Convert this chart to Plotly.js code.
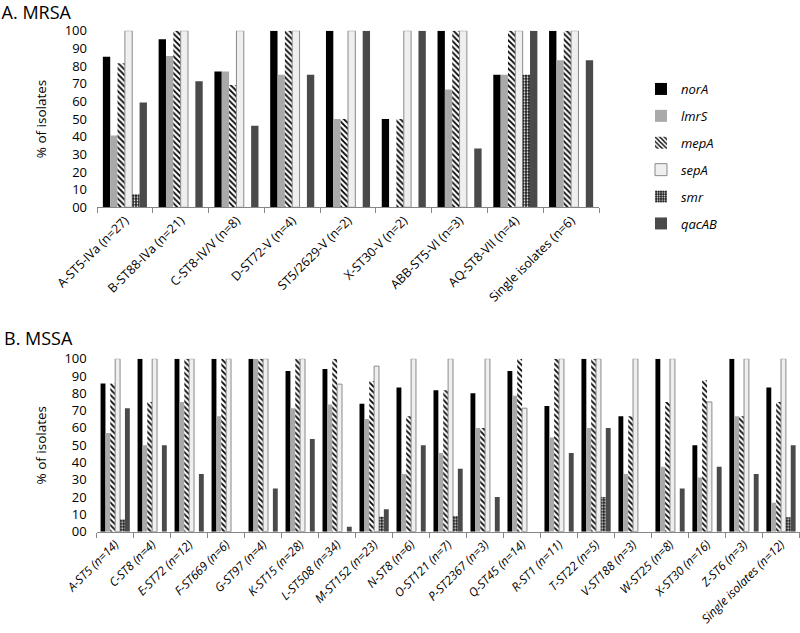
<!DOCTYPE html>
<html>
<head>
<meta charset="utf-8">
<script src="https://cdn.plot.ly/plotly-3.0.1.min.js"></script>
<style>html,body{margin:0;padding:0;background:#fff;}#chart{width:800px;height:633px;}</style>
</head>
<body>
<div id="chart"></div>
<script>
const genes = ['norA', 'lmrS', 'mepA', 'sepA', 'smr', 'qacAB'];
const yTickVals = [0, 10, 20, 30, 40, 50, 60, 70, 80, 90, 100];
const yTickText = ['00', '10', '20', '30', '40', '50', '60', '70', '80', '90', '100'];

const mrsaCategories = ['A-ST5-IVa (n=27)', 'B-ST88-IVa (n=21)', 'C-ST8-IV/V (n=8)', 'D-ST72-V (n=4)', 'ST5/2629-V (n=2)', 'X-ST30-V (n=2)', 'ABB-ST5-VI (n=3)', 'AQ-ST8-VII (n=4)', 'Single isolates (n=6)'];
const mrsaNorA  = [85.2, 95.2, 76.9, 100, 100, 50, 100, 75, 100];
const mrsaLmrS  = [40.7, 85.7, 76.9, 75, 50, 0, 66.7, 75, 83.3];
const mrsaMepA  = [81.5, 100, 69.2, 100, 50, 50, 100, 100, 100];
const mrsaSepA  = [100, 100, 100, 100, 100, 100, 100, 100, 100];
const mrsaSmr   = [7.4, 0, 0, 0, 0, 0, 0, 75, 0];
const mrsaQacAB = [59.3, 71.4, 46.2, 75, 100, 100, 33.3, 100, 83.3];

const mssaCategories = ['A-ST5 (n=14)', 'C-ST8 (n=4)', 'E-ST72 (n=12)', 'F-ST669 (n=6)', 'G-ST97 (n=4)', 'K-ST15 (n=28)', 'L-ST508 (n=34)', 'M-ST152 (n=23)', 'N-ST8 (n=6)', 'O-ST121 (n=7)', 'P-ST2367 (n=3)', 'Q-ST45 (n=14)', 'R-ST1 (n=11)', 'T-ST22 (n=5)', 'V-ST188 (n=3)', 'W-ST25 (n=8)', 'X-ST30 (n=16)', 'Z-ST6 (n=3)', 'Single isolates (n=12)'];
const mssaNorA  = [85.7, 100, 100, 100, 100, 92.9, 94.1, 73.9, 83.3, 81.8, 80, 92.9, 72.7, 100, 66.7, 100, 50, 100, 83.3];
const mssaLmrS  = [57.1, 50, 75, 66.7, 100, 71.4, 73.5, 65.2, 33.3, 45.5, 60, 78.6, 54.5, 60, 33.3, 37.5, 31.3, 66.7, 16.7];
const mssaMepA  = [85.7, 75, 100, 100, 100, 100, 100, 87, 66.7, 81.8, 60, 100, 100, 100, 66.7, 75, 87.5, 66.7, 75];
const mssaSepA  = [100, 100, 100, 100, 100, 100, 85.3, 95.7, 100, 100, 100, 71.4, 100, 100, 100, 100, 75, 100, 100];
const mssaSmr   = [7.1, 0, 0, 0, 0, 0, 0, 8.7, 0, 9.1, 0, 0, 0, 20, 0, 0, 0, 0, 8.3];
const mssaQacAB = [71.4, 50, 33.3, 0, 25, 53.6, 2.9, 13, 50, 36.4, 20, 0, 45.5, 60, 0, 25, 37.5, 33.3, 50];

const markers = {
  norA:  {color: '#000000', line: {width: 0}},
  lmrS:  {color: '#a9a9a9', line: {width: 0}},
  mepA:  {color: '#ffffff', line: {width: 0}, pattern: {shape: '\\', fgcolor: '#000000', bgcolor: '#ffffff', size: 4, solidity: 0.45}},
  sepA:  {color: '#efefef', line: {width: 1, color: '#8a8a8a'}},
  smr:   {color: '#222222', line: {width: 0}, pattern: {shape: '.', fgcolor: '#ffffff', bgcolor: '#1a1a1a', size: 3, solidity: 0.3}},
  qacAB: {color: '#4a4a4a', line: {width: 0}}
};

const mrsaSeries = [mrsaNorA, mrsaLmrS, mrsaMepA, mrsaSepA, mrsaSmr, mrsaQacAB];
const mssaSeries = [mssaNorA, mssaLmrS, mssaMepA, mssaSepA, mssaSmr, mssaQacAB];

const traces = [];
genes.forEach((g, i) => {
  traces.push({type: 'bar', name: g, x: mrsaCategories, y: mrsaSeries[i], xaxis: 'x', yaxis: 'y',
    marker: markers[g], legendgroup: g, showlegend: true, hoverinfo: 'x+y+name'});
});
genes.forEach((g, i) => {
  traces.push({type: 'bar', name: g, x: mssaCategories, y: mssaSeries[i], xaxis: 'x2', yaxis: 'y2',
    marker: markers[g], legendgroup: g, showlegend: false, hoverinfo: 'x+y+name'});
});

const axisColor = '#868686';
const xCommon = {type: 'category', tickson: 'boundaries', ticks: 'outside', ticklen: 5, tickcolor: axisColor,
  showline: true, linecolor: axisColor, linewidth: 1, showgrid: false, zeroline: false, tickangle: -45, automargin: false};
const yCommon = {range: [0, 100], tickvals: yTickVals, ticktext: yTickText, showgrid: false, showline: false,
  zeroline: false, ticks: '', ticklabelstandoff: 9, tickfont: {size: 13, color: '#000'}, automargin: false,
  title: {text: '% of isolates', font: {size: 13.5, color: '#000'}, standoff: 14}};

const layout = {
  width: 800, height: 633,
  margin: {l: 0, r: 0, t: 0, b: 0},
  paper_bgcolor: '#ffffff', plot_bgcolor: '#ffffff',
  font: {family: 'Open Sans, sans-serif', color: '#000'},
  barmode: 'group', bargap: 0.21, bargroupgap: 0,
  title: {text: 'A. MRSA', x: 0.002, xanchor: 'left', y: 1 - 13 / 633, yanchor: 'middle', font: {size: 18, color: '#000'}},
  xaxis: Object.assign({}, xCommon, {domain: [97 / 800, 599 / 800], anchor: 'y', tickfont: {size: 12.5, color: '#000'}}),
  yaxis: Object.assign({}, yCommon, {domain: [1 - 207.3 / 633, 1 - 30.7 / 633], anchor: 'x'}),
  xaxis2: Object.assign({}, xCommon, {domain: [96.7 / 800, 799.5 / 800], anchor: 'y2', tickfont: {size: 12, color: '#000', style: 'italic'}}),
  yaxis2: Object.assign({}, yCommon, {domain: [1 - 531.7 / 633, 1 - 358.7 / 633], anchor: 'x2'}),
  legend: {x: 641 / 800, xanchor: 'left', y: 1 - 74 / 633, yanchor: 'top', font: {size: 13, style: 'italic', color: '#000'},
    tracegroupgap: 7, bgcolor: 'rgba(0,0,0,0)', traceorder: 'grouped', itemwidth: 30},
  annotations: [
    {text: 'B. MSSA', xref: 'paper', yref: 'paper', x: 0.002, xanchor: 'left', y: 1 - 338 / 633, yanchor: 'middle',
     showarrow: false, font: {size: 18, color: '#000'}}
  ]
};

Plotly.newPlot('chart', traces, layout, {displayModeBar: false, staticPlot: true});
</script>
</body>
</html>
